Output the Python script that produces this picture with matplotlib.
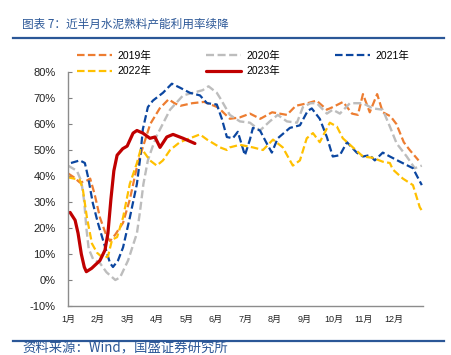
import matplotlib
matplotlib.use("Agg")
import matplotlib.pyplot as plt
from matplotlib.lines import Line2D

# ---------------- data (x in months from Jan 1, value in %) ----------------
x2019 = [0.0, 0.2, 0.4, 0.6, 0.75, 0.9, 1.08, 1.3, 1.42, 1.6, 1.86, 2.09, 2.33, 2.5, 2.78, 3.1,
         3.4, 3.6, 3.8, 4.2, 4.6, 5.05, 5.2, 5.47, 5.8, 6.15, 6.5, 6.9, 7.4, 7.7, 8.1, 8.4,
         8.75, 8.95, 9.3, 9.6, 9.8, 9.97, 10.2, 10.45, 10.64, 10.9, 11.1, 11.35, 11.55, 11.85]
v2019 = [41, 39.5, 37.5, 38, 39, 33, 24, 17, 15, 17.5, 22, 31, 43.5, 50, 60, 66,
         69.5, 68, 67, 68, 68.5, 66.5, 65, 62, 62.5, 64, 62, 64.5, 63.5, 67, 68, 69,
         65.5, 66.5, 68.5, 64, 63.5, 71.5, 64.5, 71.5, 64.5, 63, 60, 53, 50, 46]

x2020 = [0.0, 0.3, 0.45, 0.55, 0.62, 0.7, 0.85, 1.08, 1.3, 1.5, 1.6, 1.76, 2.03, 2.33, 2.43,
         2.55, 2.7, 2.85, 3.0, 3.45, 3.89, 4.22, 4.55, 4.75, 5.03, 5.14, 5.47, 5.81, 6.15,
         6.49, 6.82, 7.09, 7.4, 7.74, 7.94, 8.2, 8.41, 8.75, 8.95, 9.19, 9.53, 9.97, 10.3,
         10.64, 10.88, 11.11, 11.45, 11.72, 11.96]
v2020 = [44, 42, 38, 30, 20, 12, 8, 6.5, 3, 1, 0, 1, 7.5, 18, 26,
         37, 46, 51, 55.5, 65.5, 71, 72, 73, 74.5, 72, 70, 63.5, 61, 60.5,
         57.5, 61, 63.5, 61, 60.5, 66.5, 68, 68, 64, 65.5, 64, 68, 68, 66,
         65.5, 59, 52.5, 47.5, 43, 44]

x2021 = [0.1, 0.4, 0.57, 0.68, 0.84, 1.01, 1.18, 1.42, 1.52, 1.69, 1.86, 2.09, 2.33, 2.43,
         2.53, 2.7, 2.87, 3.21, 3.51, 3.78, 4.12, 4.46, 4.7, 5.03, 5.2, 5.37, 5.57, 5.74,
         5.98, 6.15, 6.25, 6.49, 6.72, 6.89, 7.09, 7.5, 7.84, 8.1, 8.24, 8.51, 8.75, 8.95,
         9.19, 9.43, 9.76, 9.97, 10.2, 10.37, 10.64, 10.88, 11.22, 11.66, 11.82, 11.96]
v2021 = [45, 46, 45, 39.5, 29.5, 22, 15.5, 6.5, 5, 7.5, 12.5, 24, 37, 46,
         58, 66.5, 69, 72, 75.5, 74, 72, 71, 68, 67.5, 62, 55, 54.5, 57,
         48, 54, 58.5, 57.5, 52.5, 49, 54.5, 58.5, 59.5, 65, 66, 62, 55, 47.5,
         48, 53, 49, 47.5, 48, 46, 49, 47.5, 45.5, 43, 39.5, 36.5]

x2022 = [0.0, 0.2, 0.4, 0.5, 0.64, 0.81, 0.98, 1.18, 1.35, 1.49, 1.66, 1.86, 2.09, 2.33,
         2.45, 2.55, 2.77, 3.0, 3.21, 3.45, 3.78, 4.12, 4.46, 4.7, 5.14, 5.37, 5.47, 5.81,
         6.25, 6.59, 6.93, 7.26, 7.6, 7.84, 8.07, 8.28, 8.51, 8.85, 9.09, 9.29, 9.63, 9.97,
         10.3, 10.64, 10.88, 10.98, 11.32, 11.66, 11.89, 12.0]
v2022 = [39.5, 39, 38.5, 35, 24, 14, 10.5, 8.5, 9, 15.5, 16.5, 24, 37, 45,
         50, 49.5, 46, 44, 46, 50, 53, 54.5, 56, 54, 51, 50, 51, 52,
         51, 50, 54, 51, 44, 46, 54.5, 56.5, 53, 60.5, 59, 54.5, 51, 47.5,
         47, 45.5, 45, 42.5, 39, 36.5, 28, 26]

x2023 = [0.07, 0.24, 0.34, 0.45, 0.55, 0.62, 0.8, 1.08, 1.25, 1.35, 1.45, 1.55, 1.66, 1.85,
         2.0, 2.2, 2.33, 2.53, 2.77, 2.94, 3.11, 3.34, 3.55, 3.89, 4.29]
v2023 = [26, 23, 18, 10, 5, 3.2, 4.5, 7.5, 11.5, 18, 31, 42, 48, 50.5,
         51.5, 56.5, 57.5, 56.5, 54.5, 55, 51, 55, 56, 54.5, 52.5]

month_labels = ["1月", "2月", "3月", "4月", "5月", "6月", "7月", "8月", "9月", "10月", "11月", "12月"]
y_ticks = [-10, 0, 10, 20, 30, 40, 50, 60, 70, 80]

title = "图表 7：近半月水泥熟料产能利用率续降"
source = "资料来源：Wind，国盛证券研究所"

# ---------------- styling ----------------
CJK = ["Liberation Sans", "Noto Sans CJK SC", "DejaVu Sans"]
plt.rcParams['font.family'] = CJK
W, H = 452, 355
fig = plt.figure(figsize=(W / 100, H / 100), dpi=100)
ax = fig.add_axes([68 / W, 1 - 306 / H, (423 - 68) / W, (306 - 72) / H])

dash = (3.4, 1.5)
c19, c20, c21, c22, c23 = "#ED7D31", "#BDBDBD", "#0B46A0", "#FFC000", "#C00000"
l19, = ax.plot(x2019, v2019, color=c19, lw=1.6, dashes=dash, label="2019年")
l20, = ax.plot(x2020, v2020, color=c20, lw=1.7, dashes=dash, label="2020年")
l21, = ax.plot(x2021, v2021, color=c21, lw=1.6, dashes=dash, label="2021年")
l22, = ax.plot(x2022, v2022, color=c22, lw=1.6, dashes=dash, label="2022年")
l23, = ax.plot(x2023, v2023, color=c23, lw=2.3, label="2023年", solid_capstyle='round')

ax.set_xlim(0, 12)
ax.set_ylim(-10, 80)
ax.set_yticks(y_ticks)
ax.set_yticklabels([f"{t}%" for t in y_ticks])
ax.set_xticks(range(12))
ax.set_xticklabels(month_labels)
ax.tick_params(axis='y', direction='in', length=3, width=0.8, color="#808080",
               labelsize=8, pad=9, labelcolor="#222222")
ax.tick_params(axis='x', length=0, labelsize=6.5, pad=6.5, labelcolor="#222222")
for s in ['top', 'right']:
    ax.spines[s].set_visible(False)
for s in ['left', 'bottom']:
    ax.spines[s].set_color("#8C8C8C")
    ax.spines[s].set_linewidth(1.0)

handles = [l19, l22, l20, l23, l21]
fig.legend(handles=handles, labels=[h.get_label() for h in handles],
           loc='upper left', bbox_to_anchor=(77 / W, 1 - 51 / H), ncol=3,
           frameon=False, fontsize=7.5, handlelength=3.35, handletextpad=0.5,
           columnspacing=5.3, labelspacing=0.5, borderpad=0, borderaxespad=0)

blue = "#2B5797"
fig.add_artist(Line2D([13 / W, 444 / W], [1 - 38 / H] * 2, transform=fig.transFigure,
                      color=blue, lw=1.6))
fig.add_artist(Line2D([13 / W, 444 / W], [1 - 341 / H] * 2, transform=fig.transFigure,
                      color=blue, lw=1.6))
fig.text(22 / W, 1 - 24 / H, title, color=blue, fontsize=8.4, va='center', ha='left',
         style='italic', family=["Noto Sans CJK SC", "DejaVu Sans"])
fig.text(22 / W, 1 - 348 / H, source, color=blue, fontsize=9.6, va='center', ha='left',
         style='italic', family=["Noto Sans CJK SC", "DejaVu Sans"])

fig.savefig("out.png", dpi=100)
